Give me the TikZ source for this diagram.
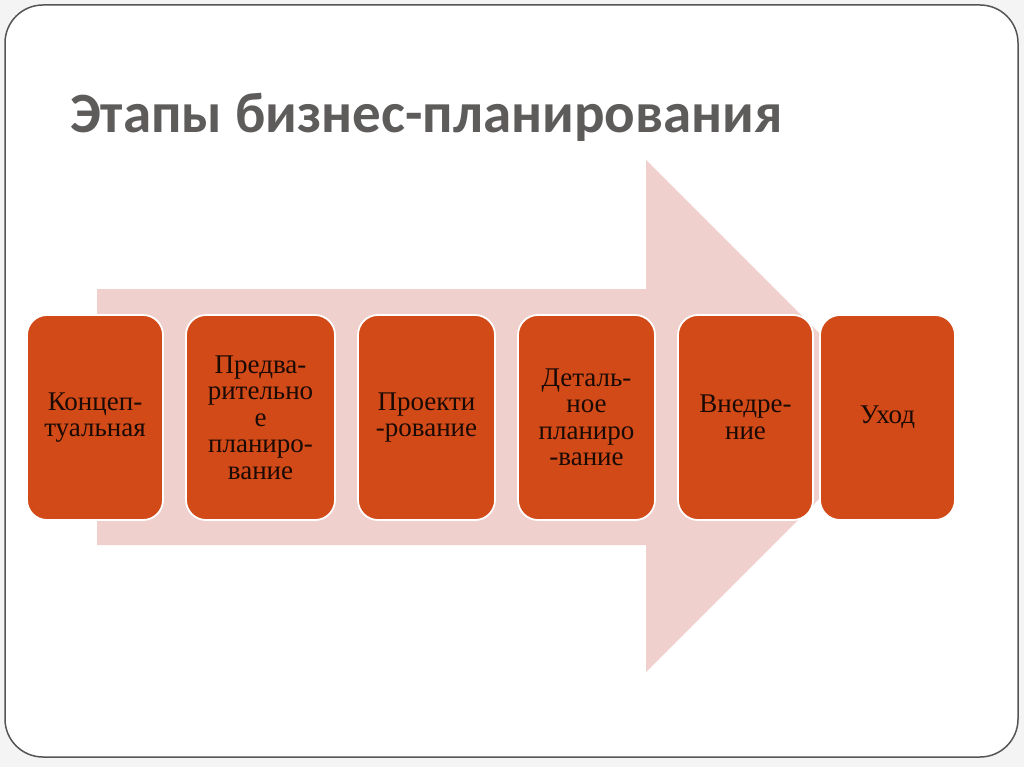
\documentclass[tikz,border=0pt]{standalone}
\usepackage{fontspec}
\newfontfamily\titlefont{Carlito}
\newfontfamily\boxfont{Liberation Serif}
\definecolor{bgout}{HTML}{F4F4F4}
\definecolor{framegray}{HTML}{555555}
\definecolor{arrowpink}{HTML}{EFD0CC}
\definecolor{stagefill}{HTML}{D24A18}
\definecolor{titlegray}{HTML}{5E5B5B}
\definecolor{stagetext}{HTML}{1A0A04}
\tikzset{
  stage/.style={draw=white, line width=1.8pt, fill=stagefill, rounded corners=20pt,
    minimum height=205pt, inner sep=0pt, align=center, text=stagetext,
    font=\boxfont\fontsize{27}{26.5}\selectfont},
  slidetitle/.style={anchor=base west, inner sep=0pt, text=titlegray,
    font=\titlefont\bfseries\fontsize{57}{60}\selectfont}
}
\begin{document}
\begin{tikzpicture}[x=1pt,y=-1pt]
\useasboundingbox (0,0) rectangle (1024,767);
\fill[bgout] (0,0) rectangle (1024,767);
\draw[framegray, line width=1.5pt, fill=white, rounded corners=38pt] (5,5) rectangle (1018,757);
\fill[arrowpink] (97,289) -- (646,289) -- (646,160) -- (902,416) -- (646,672) -- (646,545) -- (97,545) -- cycle;
\node[slidetitle] (title) at (70,133) {Этапы бизнес-планирования};
\node[stage, minimum width=136pt] (s1) at (95,417.5) {Концеп-\\туальная};
\node[stage, minimum width=149pt] (s2) at (260.5,417.5) {Предва-\\рительно\\е\\планиро-\\вание};
\node[stage, minimum width=137pt] (s3) at (426.5,417.5) {Проекти\\-рование};
\node[stage, minimum width=137pt] (s4) at (586.5,417.5) {Деталь-\\ное\\планиро\\-вание};
\node[stage, minimum width=135pt] (s5) at (745.5,417.5) {Внедре-\\ние};
\node[stage, minimum width=135pt] (s6) at (887.5,417.5) {Уход};
\end{tikzpicture}
\end{document}
